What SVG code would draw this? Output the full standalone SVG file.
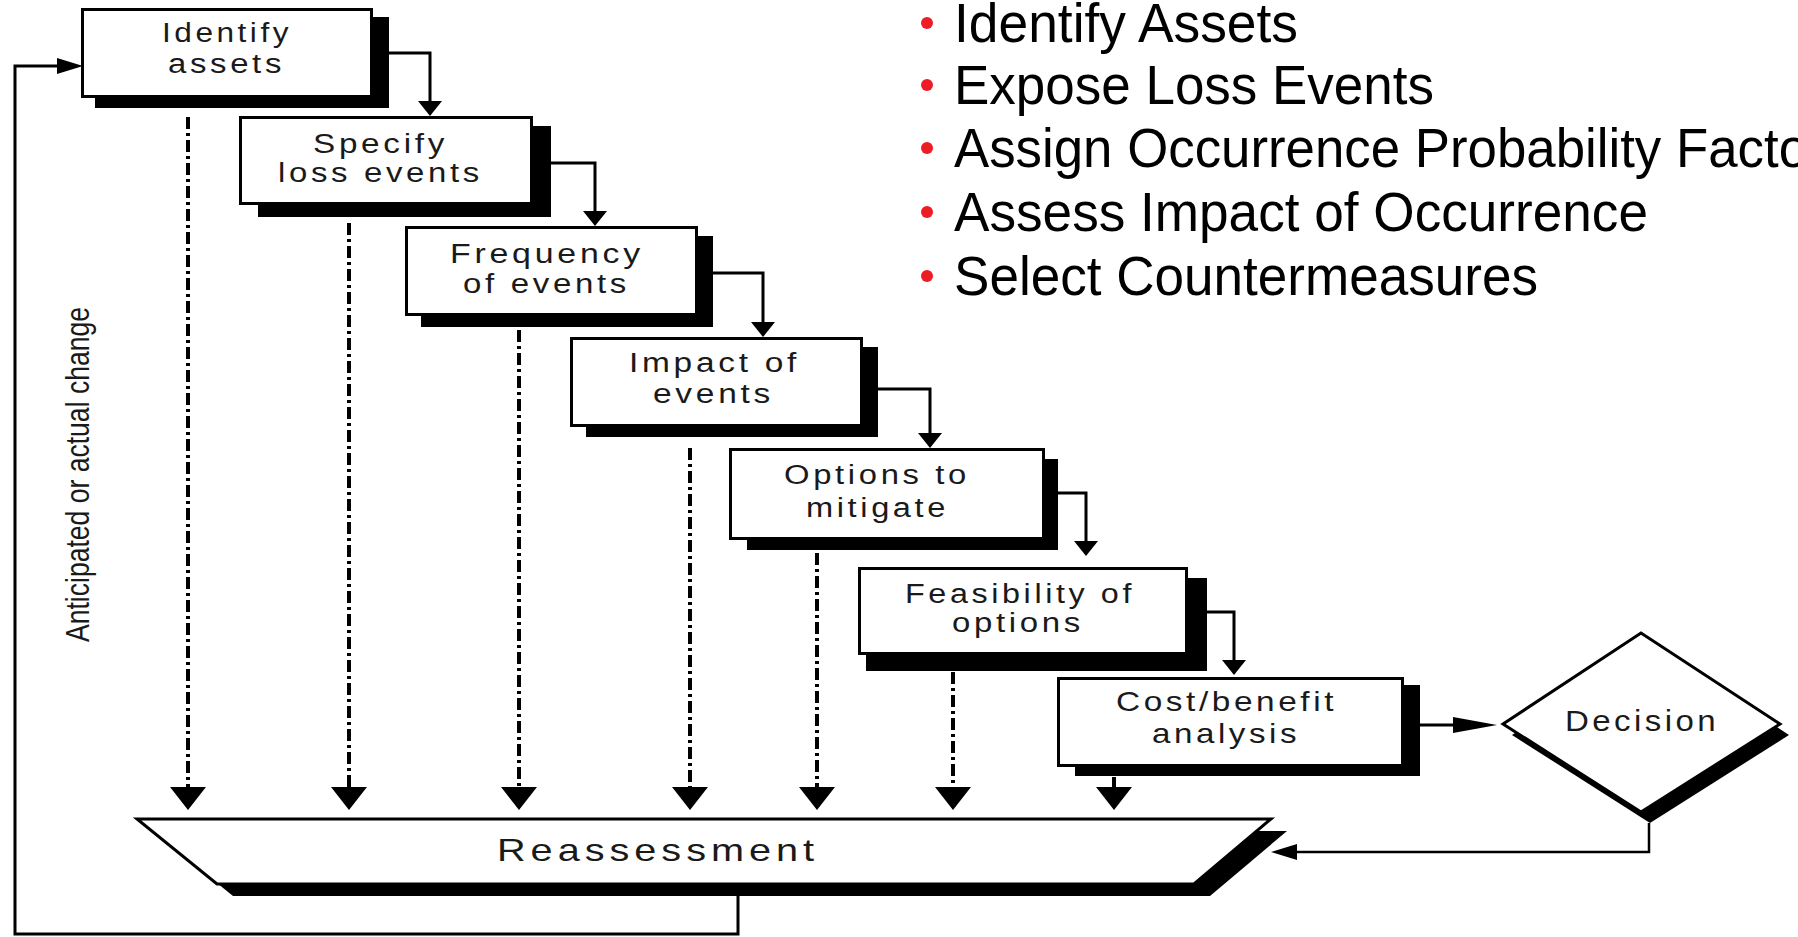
<svg xmlns="http://www.w3.org/2000/svg" width="1798" height="937" viewBox="0 0 1798 937">
<style>
  .box{fill:#fff;stroke:#000;stroke-width:3}
  .shadow{fill:#000;stroke:none}
  .lbl{font-family:"Liberation Sans",Arial,sans-serif;font-size:27px;letter-spacing:3px;fill:#1a1a1a;text-anchor:middle}
  .side{font-family:"Liberation Sans",Arial,sans-serif;font-size:33px;fill:#1a1a1a;text-anchor:middle}
  .conn{fill:none;stroke:#000;stroke-width:3}
  .drop{fill:none;stroke:#000;stroke-width:4;stroke-dasharray:12 4 3 4}
  .bul{font-family:"Liberation Sans",Arial,sans-serif;font-size:55px;fill:#000}
  .dot{fill:#ee1c25}
</style>
<defs>
  <marker id="mStep" markerUnits="userSpaceOnUse" viewBox="0 0 15 24" refX="0" refY="12" markerWidth="15" markerHeight="24" orient="auto"><path d="M0,0 L15,12 L0,24 z" fill="#000"/></marker>
  <marker id="mDrop" markerUnits="userSpaceOnUse" viewBox="0 0 23 36" refX="0" refY="18" markerWidth="23" markerHeight="36" orient="auto"><path d="M0,0 L23,18 L0,36 z" fill="#000"/></marker>
  <marker id="mLong" markerUnits="userSpaceOnUse" viewBox="0 0 44 16" refX="0" refY="8" markerWidth="44" markerHeight="16" orient="auto"><path d="M0,0 L44,8 L0,16 z" fill="#000"/></marker>
  <marker id="mSide" markerUnits="userSpaceOnUse" viewBox="0 0 26 16" refX="0" refY="8" markerWidth="26" markerHeight="16" orient="auto"><path d="M0,0 L26,8 L0,16 z" fill="#000"/></marker>
</defs>
<rect width="1798" height="937" fill="#fff"/>

<g id="connectors">
  <path class="conn" d="M389,53 H430 V101" marker-end="url(#mStep)"/>
  <path class="conn" d="M551,163 H595 V211" marker-end="url(#mStep)"/>
  <path class="conn" d="M713,273 H763 V322" marker-end="url(#mStep)"/>
  <path class="conn" d="M878,389 H930 V433" marker-end="url(#mStep)"/>
  <path class="conn" d="M1058,493 H1086 V541" marker-end="url(#mStep)"/>
  <path class="conn" d="M1207,612 H1234 V660" marker-end="url(#mStep)"/>
  <path class="conn" d="M1420,725 H1453" marker-end="url(#mLong)"/>
  <path class="conn" style="stroke-width:2.5" d="M1649,823 V852 H1297" marker-end="url(#mSide)"/>
  <path class="conn" d="M738,896 V934 H15 V66 H57" marker-end="url(#mSide)"/>
  <path class="drop" d="M188,117 V787" marker-end="url(#mDrop)"/>
  <path class="drop" d="M349,223 V787" marker-end="url(#mDrop)"/>
  <path class="drop" d="M519,330 V787" marker-end="url(#mDrop)"/>
  <path class="drop" d="M690,448 V787" marker-end="url(#mDrop)"/>
  <path class="drop" d="M817,553 V787" marker-end="url(#mDrop)"/>
  <path class="drop" d="M953,672 V787" marker-end="url(#mDrop)"/>
  <path class="drop" d="M1114,777 V787" marker-end="url(#mDrop)"/>
</g>

<g id="identify-assets">
  <rect class="shadow" x="95" y="17" width="294" height="91"/>
  <rect class="box" x="82.5" y="9.5" width="289" height="87"/>
  <text class="lbl" x="227" y="42" textLength="130" lengthAdjust="spacingAndGlyphs">Identify</text>
  <text class="lbl" x="226.5" y="73" textLength="117" lengthAdjust="spacingAndGlyphs">assets</text>
</g>

<g id="specify-loss-events">
  <rect class="shadow" x="258" y="126" width="293" height="91"/>
  <rect class="box" x="240.5" y="117.5" width="291" height="86"/>
  <text class="lbl" x="380.5" y="153" textLength="135" lengthAdjust="spacingAndGlyphs">Specify</text>
  <text class="lbl" x="380.5" y="182" textLength="205" lengthAdjust="spacingAndGlyphs">loss events</text>
</g>

<g id="frequency-of-events">
  <rect class="shadow" x="421" y="236" width="292" height="91"/>
  <rect class="box" x="406.5" y="227.5" width="290" height="87"/>
  <text class="lbl" x="547" y="263" textLength="194" lengthAdjust="spacingAndGlyphs">Frequency</text>
  <text class="lbl" x="546.5" y="293" textLength="167" lengthAdjust="spacingAndGlyphs">of events</text>
</g>

<g id="impact-of-events">
  <rect class="shadow" x="586" y="347" width="292" height="90"/>
  <rect class="box" x="571.5" y="338.5" width="290" height="87"/>
  <text class="lbl" x="714.5" y="372" textLength="171" lengthAdjust="spacingAndGlyphs">Impact of</text>
  <text class="lbl" x="713.5" y="403" textLength="121" lengthAdjust="spacingAndGlyphs">events</text>
</g>

<g id="options-to-mitigate">
  <rect class="shadow" x="747" y="459" width="311" height="91"/>
  <rect class="box" x="730.5" y="449.5" width="313" height="89"/>
  <text class="lbl" x="877" y="484" textLength="186" lengthAdjust="spacingAndGlyphs">Options to</text>
  <text class="lbl" x="877.5" y="517" textLength="143" lengthAdjust="spacingAndGlyphs">mitigate</text>
</g>

<g id="feasibility-of-options">
  <rect class="shadow" x="866" y="578" width="341" height="93"/>
  <rect class="box" x="859.5" y="568.5" width="327" height="85"/>
  <text class="lbl" x="1020" y="603" textLength="230" lengthAdjust="spacingAndGlyphs">Feasibility of</text>
  <text class="lbl" x="1018" y="632" textLength="132" lengthAdjust="spacingAndGlyphs">options</text>
</g>

<g id="cost-benefit-analysis">
  <rect class="shadow" x="1075" y="685" width="345" height="91"/>
  <rect class="box" x="1058.5" y="678.5" width="344" height="87"/>
  <text class="lbl" style="font-size:28px" x="1226.5" y="711" textLength="221" lengthAdjust="spacingAndGlyphs">Cost/benefit</text>
  <text class="lbl" style="font-size:28px" x="1226" y="743" textLength="148" lengthAdjust="spacingAndGlyphs">analysis</text>
</g>

<g id="decision">
  <polygon class="shadow" points="1512,735 1650,644 1789,735 1650,823"/>
  <polygon class="box" points="1503,724 1641,633 1780,724 1641,812"/>
  <text class="lbl" style="font-size:29px" x="1642" y="731" textLength="154" lengthAdjust="spacingAndGlyphs">Decision</text>
</g>

<g id="reassessment">
  <polygon class="shadow" points="153,831 1287,831 1210,896 233,896"/>
  <polygon class="box" points="137,819 1271,819 1194,884 217,884"/>
  <text class="lbl" style="font-size:32px;letter-spacing:4px" x="658" y="861" textLength="322" lengthAdjust="spacingAndGlyphs">Reassessment</text>
</g>

<g id="change-label">
  <text class="side" transform="translate(89,474.5) rotate(-90)" x="0" y="0" textLength="335" lengthAdjust="spacingAndGlyphs">Anticipated or actual change</text>
</g>

<g id="bullets">
  <circle class="dot" cx="927" cy="23" r="6"/>
  <text class="bul" x="954" y="42" textLength="344" lengthAdjust="spacingAndGlyphs">Identify Assets</text>
  <circle class="dot" cx="927" cy="85" r="6"/>
  <text class="bul" x="954" y="104" textLength="480" lengthAdjust="spacingAndGlyphs">Expose Loss Events</text>
  <circle class="dot" cx="927" cy="148" r="6"/>
  <text class="bul" x="954" y="167" textLength="898" lengthAdjust="spacingAndGlyphs">Assign Occurrence Probability Factors</text>
  <circle class="dot" cx="927" cy="212" r="6"/>
  <text class="bul" x="954" y="231" textLength="694" lengthAdjust="spacingAndGlyphs">Assess Impact of Occurrence</text>
  <circle class="dot" cx="927" cy="276" r="6"/>
  <text class="bul" x="954" y="295" textLength="584" lengthAdjust="spacingAndGlyphs">Select Countermeasures</text>
</g>
</svg>
